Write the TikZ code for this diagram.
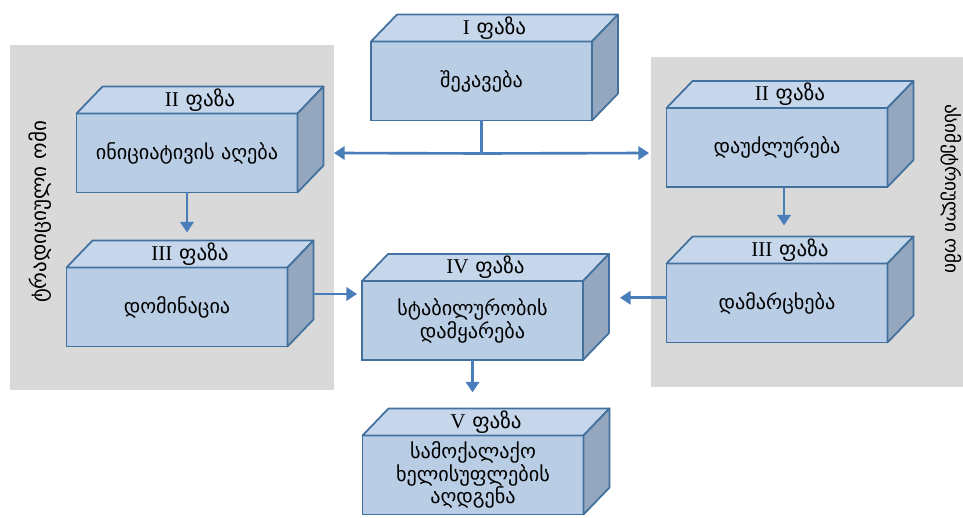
\documentclass[tikz,border=0pt]{standalone}
\usepackage{fontspec}
\setmainfont{Liberation Serif}
\newfontfamily\geo{DejaVu Sans}
\usetikzlibrary{arrows.meta,calc}

\definecolor{panelgray}{HTML}{D9D9D9}
\definecolor{frontblue}{HTML}{B9CDE5}
\definecolor{topblue}{HTML}{C6D7EB}
\definecolor{sideblue}{HTML}{95A7BE}
\definecolor{edgeblue}{HTML}{41719C}
\definecolor{arrowblue}{HTML}{4A7EBB}

\tikzset{
  front/.style={draw=edgeblue, fill=frontblue, line width=1pt, outer sep=0pt,
    minimum width=4.42cm, minimum height=1.58cm, align=center,
    font=\geo\fontsize{11.5}{13}\selectfont},
  topface/.style={draw=edgeblue, fill=topblue, line width=1pt, line join=round},
  sideface/.style={draw=edgeblue, fill=sideblue, line width=1pt, line join=round},
  phase/.style={font=\geo\fontsize{12}{13}\selectfont},
  link/.style={draw=arrowblue, line width=1.5pt},
  flow/.style={link, -{Triangle[length=6pt,width=7.5pt]}},
  warlabel/.style={font=\geo\fontsize{12}{14}\selectfont},
}

\begin{document}
\begin{tikzpicture}[x=0.02cm, y=-0.02cm]

  \useasboundingbox (0,0) rectangle (963,517);

  \fill[panelgray] (10,45) rectangle (334,390);
  \fill[panelgray] (651,57) rectangle (963,387);

  \node[warlabel, rotate=90] (tradwar) at (40,212) {ტრადიციული ომი};
  \node[warlabel, rotate=-90, font=\geo\fontsize{11}{13}\selectfont] (asymwar) at (951,189) {ასიმეტრიული ომი};

  \node[front] (ph1) at (481.5,81) {შეკავება};
  \node[front] (ph2l) at (187,153) {ინიციატივის აღება};
  \node[front] (ph3l) at (177,307) {დომინაცია};
  \node[front] (ph2r) at (777,147.5) {დაუძლურება};
  \node[front] (ph3r) at (777,303) {დამარცხება};
  \node[front] (ph4) at (472.5,320.5) {სტაბილურობის\\დამყარება};
  \node[front] (ph5) at (473,475) {სამოქალაქო\\ხელისუფლების\\აღდგენა};

  \foreach \n/\num in {ph1/I, ph2l/II, ph3l/III, ph2r/II, ph3r/III, ph4/IV, ph5/V} {
    \draw[topface] (\n.north west) -- ++(26,-27) -- ($(\n.north east)+(26,-27)$) -- (\n.north east) -- cycle;
    \draw[sideface] (\n.north east) -- ++(26,-27) -- ($(\n.south east)+(26,-27)$) -- (\n.south east) -- cycle;
    \node[phase] (\n-label) at ($(\n.north)+(13,-13.5)$) {{\rmfamily\num}~ფაზა};
    \coordinate (\n-side) at ($(\n.east)+(26,-13)$);
  }

  \coordinate (split) at ($(ph1.south)+(0,33)$);
  \coordinate (tradedge) at (334,153);
  \coordinate (asymedge) at (649,153);

  \draw[link] (ph1.south) -- (split);
  \draw[flow] (split) -- (tradedge);
  \draw[flow] (split) -- (asymedge);

  \draw[flow, shorten >=0.7cm] (ph2l.south) -- (ph2l.south |- ph3l.north);
  \draw[flow, shorten >=0.76cm] ([xshift=4pt]ph2r.south) -- ([xshift=4pt]ph2r.south |- ph3r.north);
  \draw[flow, shorten >=0.1cm] (ph3l-side) -- (ph3l-side -| ph4.west);
  \draw[flow, shorten >=0.22cm] ([yshift=3pt]ph3r.west) -- ([yshift=3pt]ph3r.west -| ph4-side);
  \draw[flow, shorten >=0.86cm] (ph4.south) -- (ph4.south |- ph5.north);

\end{tikzpicture}
\end{document}
